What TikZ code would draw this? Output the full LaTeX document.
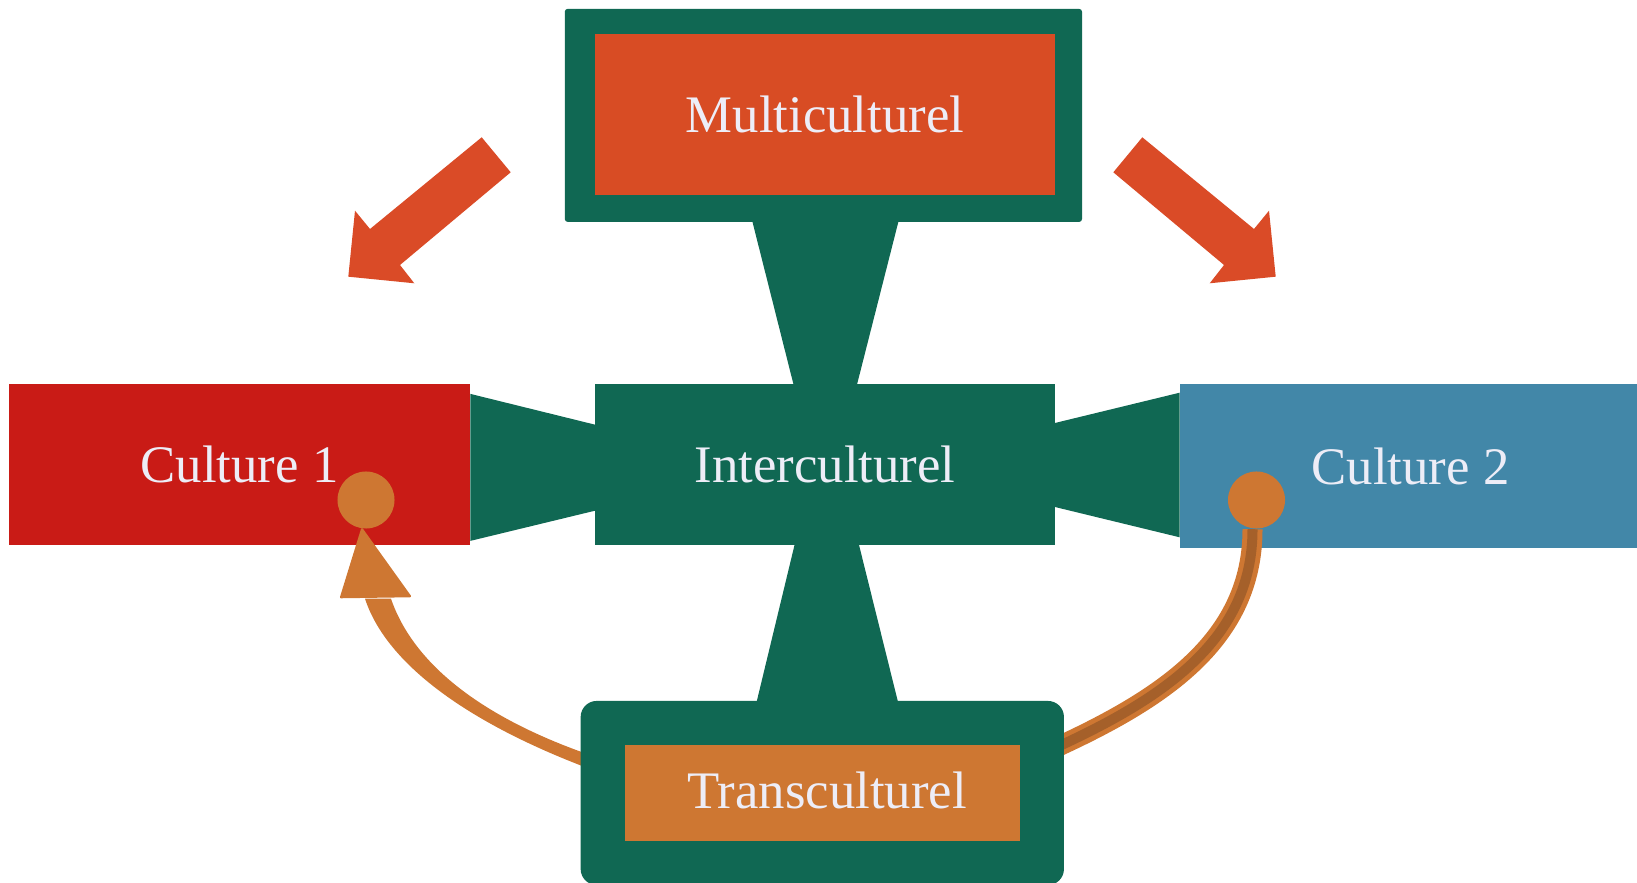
\documentclass[tikz,border=0pt]{standalone}
\usepackage{fontspec}
\setmainfont{Liberation Serif}
\usetikzlibrary{calc}
\definecolor{boxgreen}{RGB}{16,104,83}
\definecolor{multired}{RGB}{216,76,36}
\definecolor{arrowred}{RGB}{218,75,39}
\definecolor{culturered}{RGB}{201,27,22}
\definecolor{cultureblue}{RGB}{66,135,168}
\definecolor{transorange}{RGB}{206,119,50}
\definecolor{wirebrown}{RGB}{165,96,42}
\definecolor{labeltext}{RGB}{237,237,247}

\begin{document}
\begin{tikzpicture}[x=0.01cm, y=-0.01cm,
	labelbox/.style={rectangle, inner sep=0pt, minimum width=4.6cm, minimum height=1.61cm, text=labeltext, font=\fontsize{15}{18}\selectfont},
	greenframe/.style={rectangle, fill=boxgreen, inner sep=0pt},
	knob/.style={circle, fill=transorange, inner sep=0pt, minimum size=0.57cm}]
	%%%%% START %%%%%
	\clip (0,0) rectangle (1637,883);
	
	% top
	\node[greenframe, minimum width=5.17cm, minimum height=2.13cm, rounded corners=0.03cm] (multiframe) at (823.4,115.4) {};
	\node[labelbox, fill=multired] (multi) at (825,114.7) {Multiculturel};
	
	% middle row
	\node[labelbox, fill=boxgreen] (inter) at (825,464.7) {Interculturel};
	\node[labelbox, fill=culturered] (c1) at (239.5,464.9) {Culture 1};
	\node[labelbox, fill=cultureblue, minimum height=1.63cm] (c2) at (1410.5,466) {Culture 2};
	
	% green connectors
	\fill[boxgreen] ($(multiframe.south)+(-71,-1)$) -- ($(multiframe.south)+(75,-1)$) -- ($(inter.north)+(31,5)$) -- ($(inter.north)+(-30.5,5)$) -- cycle;
	\fill[boxgreen] ($(c1.east)+(0,-71)$) -- ($(inter.west)+(5,-39)$) -- ($(inter.west)+(5,45)$) -- ($(c1.east)+(0,76)$) -- cycle;
	\fill[boxgreen] ($(inter.east)+(-5,-40.7)$) -- ($(c2.west)+(0,-73.3)$) -- ($(c2.west)+(0,71.3)$) -- ($(inter.east)+(-5,41.3)$) -- cycle;
	
	% big arrows
	\fill[arrowred] (481.7,137.3) -- (510.7,172.3) -- (400,265) -- (414.3,283.3) -- (348.3,276.7) -- (355,210.7) -- (370,229) -- cycle;
	\fill[arrowred] (1142.3,137.3) -- (1113.3,172.3) -- (1224,265) -- (1209.7,283.3) -- (1275.7,276.7) -- (1269,210.7) -- (1254,229) -- cycle;
	
	% knobs
	\node[knob] (k1) at (366,500) {};
	\node[knob] (k2) at (1256.5,500) {};
	\coordinate (transL) at (590,762);
	\coordinate (transR) at (1055,748);
	
	% wires
	\filldraw[transorange, line width=0.6pt, line join=round] ($(k1.south)+(-4,0)$) -- ($(k1.south)+(-25,68)$) -- ($(k1.south)+(44,67)$) -- cycle;
	\fill[transorange] ($(transL)+(0,7)$) .. controls (460,720) and (385,660) .. ($(k1.south)+(-1,69.5)$) -- ($(k1.south)+(25,69.5)$) .. controls (412,660) and (475,715) .. ($(transL)+(0,-7)$) -- cycle;
	\draw[transorange, line width=1.42pt, double=wirebrown, double distance=2.85pt] ($(k2.south)+(-4,0)$) .. controls +(0,110) and +(109,-50) .. (transR);
	
	% bottom
	\node[greenframe, minimum width=4.83cm, minimum height=1.84cm, rounded corners=0.16cm] (trframe) at (822.3,793) {};
	\node[labelbox, fill=transorange, minimum width=3.95cm, minimum height=0.96cm] (trans) at (822.3,793) {};
	\node[text=labeltext, font=\fontsize{15}{18}\selectfont, inner sep=0pt] (translabel) at (827,790) {Transculturel};
	\fill[boxgreen] ($(inter.south)+(-29.5,-5)$) -- ($(inter.south)+(33,-5)$) -- ($(trframe.north)+(76,3)$) -- ($(trframe.north)+(-66,3)$) -- cycle;
	
	%%%%% END %%%%%
\end{tikzpicture}
\end{document}
